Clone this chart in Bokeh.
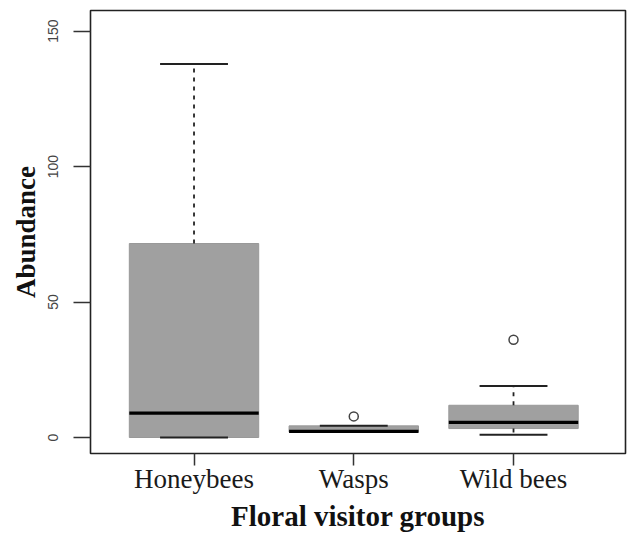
from bokeh.plotting import figure
from bokeh.models import ColumnDataSource, FixedTicker, Range1d
from bokeh.embed import file_html
from bokeh.resources import INLINE

# ---- data ----
groups = ["Honeybees", "Wasps", "Wild bees"]
q1 = [0.0, 2.0, 3.3]
median = [9.0, 2.3, 5.6]
q3 = [71.6, 4.3, 11.9]
whisker_low = [0.0, 2.0, 1.0]
whisker_high = [137.9, 4.3, 19.0]
outlier_group = ["Wasps", "Wild bees"]
outlier_value = [7.8, 36.1]
y_ticks = [0, 50, 100, 150]

pos = [i + 1 for i in range(len(groups))]
box_w = 0.81
cap_w = 0.425

src = ColumnDataSource(dict(
    x=pos, q1=q1, med=median, q3=q3, lo=whisker_low, hi=whisker_high,
    xl=[p - box_w / 2 for p in pos], xr=[p + box_w / 2 for p in pos],
    cl=[p - cap_w / 2 for p in pos], cr=[p + cap_w / 2 for p in pos],
))
out_src = ColumnDataSource(dict(
    x=[pos[groups.index(g)] for g in outlier_group], y=outlier_value))

p = figure(width=628, height=534, output_backend="svg", toolbar_location=None,
           x_range=Range1d(0.352, 3.701), y_range=Range1d(-5.9, 157.6),
           min_border_left=90, min_border_right=3, min_border_top=10,
           min_border_bottom=81)
p.xgrid.visible = False
p.ygrid.visible = False
p.outline_line_color = "#222222"
p.outline_line_width = 1.6
p.background_fill_color = "white"

# boxes
p.vbar(x="x", width=box_w, bottom="q1", top="q3", source=src,
       fill_color="#a0a0a0", line_color="#999999", line_width=1)
# whiskers
p.segment(x0="x", y0="q3", x1="x", y1="hi", source=src, line_color="#222222",
          line_width=1.8, line_dash="4 5")
p.segment(x0="x", y0="q1", x1="x", y1="lo", source=src, line_color="#222222",
          line_width=1.8, line_dash="4 5")
# caps
p.segment(x0="cl", y0="hi", x1="cr", y1="hi", source=src, line_color="#222222", line_width=2)
p.segment(x0="cl", y0="lo", x1="cr", y1="lo", source=src, line_color="#222222", line_width=2)
# medians
p.segment(x0="xl", y0="med", x1="xr", y1="med", source=src, line_color="black", line_width=3.2)
# outliers
p.scatter(x="x", y="y", source=out_src, marker="circle", size=9,
          fill_color=None, line_color="#444444", line_width=1.5)

# axes
xa = p.xaxis[0]
xa.ticker = FixedTicker(ticks=pos)
xa.major_label_overrides = {pp: g for pp, g in zip(pos, groups)}
xa.axis_line_color = None
xa.major_tick_out = 12
xa.major_tick_in = 0
xa.minor_tick_line_color = None
xa.major_tick_line_color = "#333333"
xa.major_tick_line_width = 1.5
xa.major_label_text_font = "Liberation Serif"
xa.major_label_text_font_size = "27px"
xa.major_label_text_color = "#1a1a1a"
xa.major_label_standoff = -2
xa.axis_label = "Floral visitor groups"
xa.axis_label_text_font = "Liberation Serif"
xa.axis_label_text_font_style = "bold"
xa.axis_label_text_font_size = "29px"
xa.axis_label_text_color = "#111111"
xa.axis_label_standoff = 3

ya = p.yaxis[0]
ya.ticker = FixedTicker(ticks=y_ticks)
ya.axis_line_color = None
ya.major_tick_out = 17
ya.major_tick_in = 0
ya.minor_tick_line_color = None
ya.major_tick_line_color = "#333333"
ya.major_tick_line_width = 1.5
ya.major_label_orientation = "parallel"
ya.major_label_text_font = "Liberation Sans"
ya.major_label_text_font_size = "14px"
ya.major_label_text_color = "#444444"
ya.major_label_standoff = 15
ya.axis_label = "Abundance"
ya.axis_label_text_font = "Liberation Serif"
ya.axis_label_text_font_style = "bold"
ya.axis_label_text_font_size = "27px"
ya.axis_label_text_color = "#111111"
ya.axis_label_standoff = 5

open("out.html", "w").write(file_html(p, INLINE))
